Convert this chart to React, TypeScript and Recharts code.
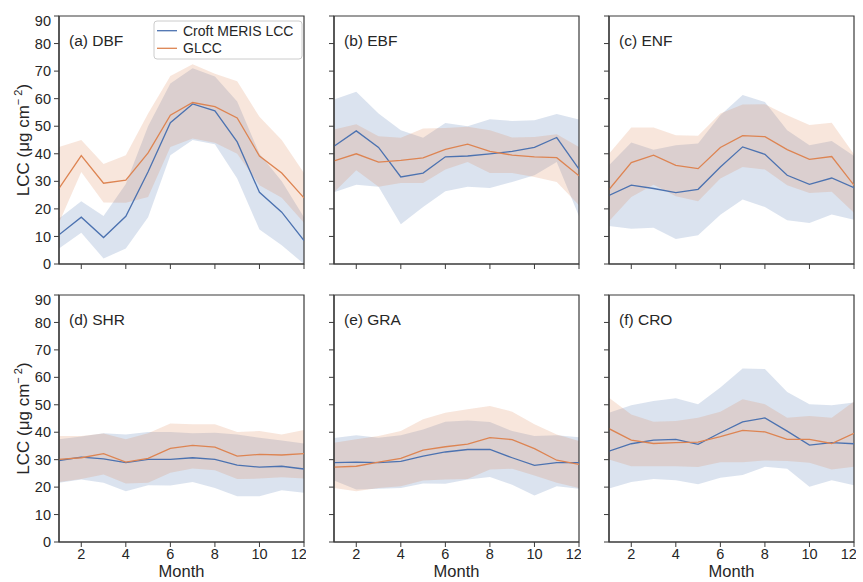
import React from "react";
import {
  ComposedChart,
  Area,
  Line,
  XAxis,
  YAxis,
  ReferenceArea,
} from "recharts";

const months = [1, 2, 3, 4, 5, 6, 7, 8, 9, 10, 11, 12];
const xTicks = [2, 4, 6, 8, 10, 12];
const yTicks = [0, 10, 20, 30, 40, 50, 60, 70, 80, 90];
const seriesNames = ["Croft MERIS LCC", "GLCC"];

// (a) DBF
const dbfCroft = [10.6, 17, 9.6, 17.3, 33.5, 51.3, 58.1, 55.6, 44.3, 26, 18.8, 8.5];
const dbfCroftLo = [5.6, 11.3, 2, 5.6, 17, 39.5, 45, 43.5, 31, 12.5, 6.8, 0];
const dbfCroftHi = [16.5, 22.8, 17.4, 29, 50, 65.5, 71, 68, 59, 40, 30, 17];
const dbfGlcc = [27.4, 39.3, 29.3, 30.4, 40.3, 54, 58.6, 57.1, 53, 39.2, 33, 24];
const dbfGlccLo = [15, 33.4, 22.3, 22.2, 24.3, 42.5, 45.5, 44, 40, 28.6, 24, 15];
const dbfGlccHi = [42.5, 45, 36.3, 39.5, 54.6, 68.2, 72.5, 69, 66.3, 53.4, 45, 33];

// (b) EBF
const ebfCroft = [42.7, 48.3, 42.3, 31.6, 33, 38.9, 39.2, 40, 40.9, 42.3, 45.9, 34.4];
const ebfCroftLo = [26, 28.8, 28, 14.4, 20.7, 26.4, 28, 27.6, 29.8, 32.2, 37, 17.3];
const ebfCroftHi = [59.7, 62.5, 54.6, 48.5, 45.8, 51.2, 50, 52.5, 51.9, 52.2, 54.4, 52.4];
const ebfGlcc = [37.4, 40, 37, 37.6, 38.5, 41.6, 43.5, 40.9, 39.5, 38.9, 38.6, 32];
const ebfGlccLo = [26, 34, 28, 29.4, 29.4, 34.3, 37, 33, 33, 31.6, 29.8, 21.3];
const ebfGlccHi = [48.8, 50.7, 46.4, 45.8, 49.2, 49.4, 49.8, 48.5, 45.9, 46.1, 47.1, 42.5];

// (c) ENF
const enfCroft = [24.9, 28.6, 27.4, 25.9, 27.1, 35.2, 42.5, 39.8, 32.2, 28.9, 31.2, 27.7];
const enfCroftLo = [13.8, 12.8, 13.2, 9.1, 10.4, 17.9, 23.4, 20.7, 15.9, 14.9, 18, 16.1];
const enfCroftHi = [35.8, 44.1, 41.5, 43.1, 43.7, 54, 61.3, 58.8, 48.5, 43.1, 44.6, 39.2];
const enfGlcc = [27, 36.8, 39.5, 35.8, 34.6, 42.3, 46.6, 46.2, 41.5, 38, 39, 28.6];
const enfGlccLo = [15.5, 24.3, 28.8, 24.6, 22.8, 31, 35.2, 34.3, 28.6, 25.8, 26.2, 18.6];
const enfGlccHi = [40, 49.5, 49.5, 46.7, 46.5, 54.6, 57.9, 58, 54, 50.4, 51.3, 39.8];

// (d) SHR
const shrCroft = [29.7, 30.9, 30.3, 28.9, 30.1, 30.1, 30.7, 30.1, 28, 27.3, 27.6, 26.6];
const shrCroftLo = [21.6, 22.8, 21.6, 18.5, 20.7, 20.6, 21.9, 19.7, 16.7, 16.7, 18.9, 17.9];
const shrCroftHi = [37.4, 38.4, 39.6, 39.2, 40.1, 40.1, 39.6, 39.8, 39.2, 38, 37, 35.9];
const shrGlcc = [30.1, 30.7, 32.2, 29.1, 30.5, 34.1, 35.2, 34.6, 31.3, 31.9, 31.7, 32.2];
const shrGlccLo = [21.9, 23, 24.6, 21.3, 21.6, 25.2, 26.8, 26.1, 23, 23.1, 23.6, 23.1];
const shrGlccHi = [38.6, 38.6, 39.5, 37.4, 39.6, 43.2, 42.9, 42.9, 40.1, 40.4, 39.2, 40.8];

// (e) GRA
const graCroft = [28.9, 29.1, 28.9, 29.4, 31.3, 32.8, 33.7, 33.7, 30.7, 27.9, 28.9, 28.9];
const graCroftLo = [22.4, 19.1, 19.4, 19.7, 21.3, 21.2, 22.8, 23.7, 20.9, 16.9, 20.3, 19.4];
const graCroftHi = [37.9, 38.9, 38, 38.9, 41, 43.8, 44.3, 43.7, 40.4, 38.6, 38.9, 38.2];
const graGlcc = [27.3, 27.6, 29.1, 30.5, 33.5, 34.7, 35.7, 38, 37.3, 34, 29.8, 28.3];
const graGlccLo = [19.7, 18.5, 19.7, 20.3, 22.4, 22.8, 23, 26.4, 26.7, 24.2, 21.6, 19.7];
const graGlccHi = [36.2, 37.4, 38.6, 40.4, 44.7, 47.1, 48.4, 49.6, 47.5, 42.9, 39.2, 36.8];

// (f) CRO
const croCroft = [33.1, 35.8, 37.1, 37.4, 35.6, 39.8, 43.8, 45.2, 40.4, 35.3, 36.2, 35.8];
const croCroftLo = [19.5, 21.9, 23, 22.5, 21, 23.4, 24.4, 27.4, 26.7, 20.1, 22.5, 20.7];
const croCroftHi = [47.1, 49.8, 51.4, 52.4, 50.2, 56.3, 63.2, 63, 54.7, 50.2, 49.8, 50.8];
const croGlcc = [41.3, 37.1, 35.9, 36.2, 36.4, 38.4, 40.7, 40.1, 37.4, 37.4, 35.9, 39.6];
const croGlccLo = [30.1, 27.6, 27.6, 27.6, 27.3, 29.1, 29.1, 29.7, 29.5, 28.9, 26.4, 27.4];
const croGlccHi = [52.6, 46.5, 43.8, 44.1, 45.3, 47.5, 52, 50.2, 45.3, 45.9, 45.3, 51.2];

const BLUE = "#4c72b0";
const ORANGE = "#dd8452";
const AXIS = "#3a3a3a";
const TEXT = "#262626";

const PLOT_W = 245;
const COLS = [59, 334, 609];
const ROWS = [
  { y: 16, h: 248 },
  { y: 295, h: 247 },
];

type PanelDef = {
  label: string;
  croft: number[];
  croftLo: number[];
  croftHi: number[];
  glcc: number[];
  glccLo: number[];
  glccHi: number[];
};

const panels: PanelDef[] = [
  { label: "(a) DBF", croft: dbfCroft, croftLo: dbfCroftLo, croftHi: dbfCroftHi, glcc: dbfGlcc, glccLo: dbfGlccLo, glccHi: dbfGlccHi },
  { label: "(b) EBF", croft: ebfCroft, croftLo: ebfCroftLo, croftHi: ebfCroftHi, glcc: ebfGlcc, glccLo: ebfGlccLo, glccHi: ebfGlccHi },
  { label: "(c) ENF", croft: enfCroft, croftLo: enfCroftLo, croftHi: enfCroftHi, glcc: enfGlcc, glccLo: enfGlccLo, glccHi: enfGlccHi },
  { label: "(d) SHR", croft: shrCroft, croftLo: shrCroftLo, croftHi: shrCroftHi, glcc: shrGlcc, glccLo: shrGlccLo, glccHi: shrGlccHi },
  { label: "(e) GRA", croft: graCroft, croftLo: graCroftLo, croftHi: graCroftHi, glcc: graGlcc, glccLo: graGlccLo, glccHi: graGlccHi },
  { label: "(f) CRO", croft: croCroft, croftLo: croCroftLo, croftHi: croCroftHi, glcc: croGlcc, glccLo: croGlccLo, glccHi: croGlccHi },
];

const buildRows = (p: PanelDef) =>
  months.map((m, i) => ({
    month: m,
    croft: p.croft[i],
    croftBand: [p.croftLo[i], p.croftHi[i]],
    glcc: p.glcc[i],
    glccBand: [p.glccLo[i], p.glccHi[i]],
  }));

const Panel = ({ p, col, row }: { p: PanelDef; col: number; row: number }) => {
  const yW = col === 0 ? 55 : 30;
  const xH = row === 1 ? 40 : 10;
  const margin = { top: 4, right: 2, left: 4, bottom: 0 };
  const plotY = ROWS[row].y;
  const plotH = ROWS[row].h;
  const width = margin.left + yW + PLOT_W + margin.right;
  const height = margin.top + plotH + xH + margin.bottom;
  const px0 = margin.left + yW;
  const py0 = margin.top;
  const data = buildRows(p);

  return (
    <div style={{ position: "absolute", left: COLS[col] - px0, top: plotY - py0 }}>
      <ComposedChart width={width} height={height} data={data} margin={margin}>
        <XAxis
          dataKey="month"
          type="number"
          domain={[1, 12]}
          ticks={xTicks}
          allowDataOverflow
          height={xH}
          tickSize={5}
          tickMargin={2}
          tickFormatter={row === 1 ? undefined : () => ""}
          tick={{ fill: TEXT, fontSize: 14.5 }}
          axisLine={{ stroke: AXIS, strokeWidth: 1.2 }}
          tickLine={{ stroke: AXIS }}
        />
        <YAxis
          type="number"
          domain={[0, 90]}
          ticks={yTicks}
          width={yW}
          tickSize={5}
          tickMargin={3}
          tickFormatter={col === 0 ? undefined : () => ""}
          tick={{ fill: TEXT, fontSize: 14.5 }}
          axisLine={{ stroke: AXIS, strokeWidth: 1.2 }}
          tickLine={{ stroke: AXIS }}
        />
        <Area
          dataKey="croftBand"
          type="linear"
          stroke="none"
          fill={BLUE}
          fillOpacity={0.2}
          isAnimationActive={false}
          activeDot={false}
        />
        <Area
          dataKey="glccBand"
          type="linear"
          stroke="none"
          fill={ORANGE}
          fillOpacity={0.2}
          isAnimationActive={false}
          activeDot={false}
        />
        <Line
          dataKey="croft"
          type="linear"
          stroke={BLUE}
          strokeWidth={1.3}
          dot={false}
          isAnimationActive={false}
        />
        <Line
          dataKey="glcc"
          type="linear"
          stroke={ORANGE}
          strokeWidth={1.3}
          dot={false}
          isAnimationActive={false}
        />
        <ReferenceArea
          x1={1}
          x2={12}
          y1={0}
          y2={90}
          fill="none"
          fillOpacity={0}
          stroke={AXIS}
          strokeWidth={1.2}
        />
        <text x={px0 + 10} y={py0 + 30} fontSize={15.5} fill={TEXT}>
          {p.label}
        </text>
        {col === 0 && (
          <text
            x={29}
            y={py0 + plotH / 2}
            transform={`rotate(-90, 29, ${py0 + plotH / 2})`}
            textAnchor="middle"
            fontSize={17}
            fill={TEXT}
          >
            LCC (μg cm
            <tspan dy={-7} fontSize={11}>
              − 2
            </tspan>
            <tspan dy={7}>)</tspan>
          </text>
        )}
        {row === 1 && (
          <text
            x={px0 + PLOT_W / 2}
            y={py0 + plotH + 35}
            textAnchor="middle"
            fontSize={16.5}
            fill={TEXT}
          >
            Month
          </text>
        )}
        {col === 0 && row === 0 && (
          <g>
            <rect
              x={154}
              y={py0 + 5}
              width={148}
              height={38}
              rx={3}
              fill="#ffffff"
              fillOpacity={0.8}
              stroke="#cccccc"
            />
            <line x1={157} x2={177} y1={py0 + 14.7} y2={py0 + 14.7} stroke={BLUE} strokeWidth={1.3} />
            <text x={183} y={py0 + 19.5} fontSize={14} fill={TEXT}>
              {seriesNames[0]}
            </text>
            <line x1={157} x2={177} y1={py0 + 32.3} y2={py0 + 32.3} stroke={ORANGE} strokeWidth={1.3} />
            <text x={183} y={py0 + 37} fontSize={14} fill={TEXT}>
              {seriesNames[1]}
            </text>
          </g>
        )}
      </ComposedChart>
    </div>
  );
}

export default function App() {
  return (
    <div
      style={{
        position: "fixed",
        left: 0,
        top: 0,
        width: 863,
        height: 582,
        overflow: "hidden",
        background: "#ffffff",
        fontFamily: "'Liberation Sans', Arial, sans-serif",
      }}
    >
      {panels.map((p, i) => (
        <Panel key={p.label} p={p} col={i % 3} row={Math.floor(i / 3)} />
      ))}
    </div>
  );
}
